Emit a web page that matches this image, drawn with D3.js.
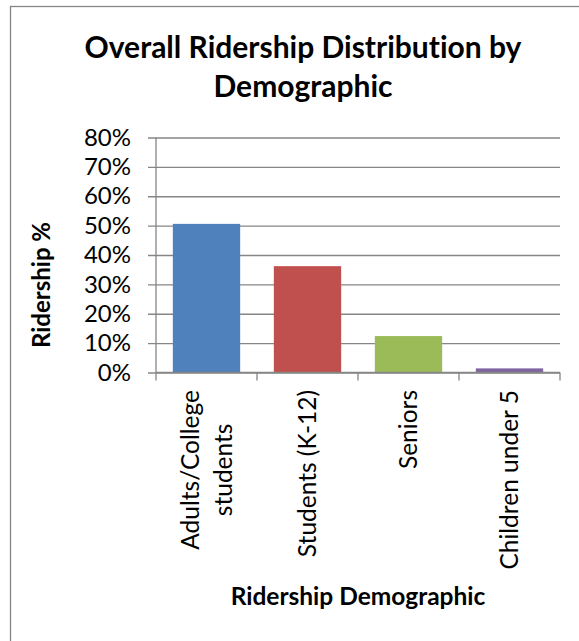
<!DOCTYPE html>
<html>
<head>
<meta charset="utf-8">
<script src="https://cdn.jsdelivr.net/npm/d3@7"></script>
<style>
  html, body { margin: 0; padding: 0; background: #fff; }
  svg { display: block; }
  text { font-family: Lato, "Open Sans", "Liberation Sans", sans-serif; fill: #000; font-variant-ligatures: none; }
</style>
</head>
<body>
<svg id="chart" width="579" height="641"></svg>
<script>
// Ridership share by demographic group
const categories = ["Adults/College students", "Students (K-12)", "Seniors", "Children under 5"];
const labelLines = [["Adults/College", "students"], ["Students (K-12)"], ["Seniors"], ["Children under 5"]];
const ridership = [0.506, 0.362, 0.124, 0.014];
const barColors = ["#4F81BD", "#C0504D", "#9BBB59", "#8064A2"];
const yTicks = [0, 0.1, 0.2, 0.3, 0.4, 0.5, 0.6, 0.7, 0.8];

const titleLines = ["Overall Ridership Distribution by", "Demographic"];
const xTitle = "Ridership Demographic";
const yTitle = "Ridership %";

const svg = d3.select("#chart");
const W = 579, H = 641;
const gridColor = "#868686";

svg.append("rect").attr("width", W).attr("height", H).attr("fill", "#fff");

// chart frame (runs off the right and bottom edges)
svg.append("rect")
  .attr("x", 10.5).attr("y", 6.5)
  .attr("width", 620).attr("height", 700)
  .attr("fill", "none").attr("stroke", gridColor).attr("stroke-width", 1.3);

const plot = { left: 156, right: 560, top: 137.5, bottom: 372.5 };

const y = d3.scaleLinear().domain([0, 0.8]).range([plot.bottom, plot.top]);
const x = d3.scaleBand().domain(categories)
  .range([plot.left, plot.right])
  .paddingInner(1 / 3).paddingOuter(1 / 6);
const step = x.step();

// horizontal gridlines, extending past the axis as outside tick marks
const grid = svg.append("g")
  .attr("transform", `translate(${plot.right},0)`)
  .call(d3.axisLeft(y).tickValues(yTicks).tickSize(plot.right - plot.left + 8).tickFormat(""));
grid.select(".domain").remove();
grid.selectAll(".tick line").attr("stroke", gridColor).attr("stroke-width", 1.3);

// y tick labels
const yAxis = svg.append("g")
  .attr("transform", `translate(${plot.left},0)`)
  .call(d3.axisLeft(y).tickValues(yTicks).tickSize(0).tickPadding(25).tickFormat(d3.format(".0%")));
yAxis.select(".domain").remove();
yAxis.selectAll("text")
  .style("font-family", "Lato, 'Open Sans', sans-serif")
  .style("font-size", "24px").attr("fill", "#000");

// bars
svg.append("g").selectAll("rect")
  .data(categories)
  .join("rect")
  .attr("x", d => x(d))
  .attr("width", x.bandwidth())
  .attr("y", (d, i) => y(ridership[i]))
  .attr("height", (d, i) => y(0) - y(ridership[i]))
  .attr("fill", (d, i) => barColors[i]);

// y axis line
svg.append("line")
  .attr("x1", plot.left).attr("x2", plot.left)
  .attr("y1", plot.top).attr("y2", plot.bottom)
  .attr("stroke", gridColor).attr("stroke-width", 1.3);

// x axis line and category boundary ticks
svg.append("line")
  .attr("x1", plot.left).attr("x2", plot.right)
  .attr("y1", plot.bottom).attr("y2", plot.bottom)
  .attr("stroke", gridColor).attr("stroke-width", 1.3);
const bounds = categories.map(c => x(c) - step * x.paddingInner() / 2)
  .concat([x(categories[categories.length - 1]) + x.bandwidth() + step * x.paddingInner() / 2]);
svg.append("g").selectAll("line")
  .data(bounds)
  .join("line")
  .attr("x1", d => d).attr("x2", d => d)
  .attr("y1", plot.bottom).attr("y2", plot.bottom + 8)
  .attr("stroke", gridColor).attr("stroke-width", 1.3);

// rotated category labels
const labelTop = 390;
const catFont = 24.5;
const lineGap = 33;
categories.forEach((c, i) => {
  const cx = x(c) + x.bandwidth() / 2;
  const lines = labelLines[i];
  const g = svg.append("g");
  const texts = lines.map((ln, j) => g.append("text")
    .text(ln)
    .style("font-size", catFont + "px"));
  const maxLen = d3.max(texts, t => t.node().getComputedTextLength());
  texts.forEach((t, j) => {
    const off = (j - (lines.length - 1) / 2) * lineGap;
    t.attr("text-anchor", "middle")
      .attr("dy", "0.35em")
      .attr("transform", `translate(${cx + off},${labelTop + maxLen / 2}) rotate(-90)`);
  });
});

// chart title
svg.append("g").selectAll("text")
  .data(titleLines)
  .join("text")
  .attr("x", 303).attr("y", (d, i) => 58 + i * 39)
  .attr("text-anchor", "middle")
  .style("font-size", "30px").style("font-weight", "bold")
  .text(d => d);

// axis titles
svg.append("text")
  .attr("x", 358).attr("y", 605)
  .attr("text-anchor", "middle")
  .style("font-size", "24.5px").style("font-weight", "bold")
  .text(xTitle);

svg.append("text")
  .attr("transform", "translate(42,285) rotate(-90)")
  .attr("text-anchor", "middle").attr("dy", "0.35em")
  .style("font-size", "24px").style("font-weight", "bold")
  .text(yTitle);
</script>
</body>
</html>
